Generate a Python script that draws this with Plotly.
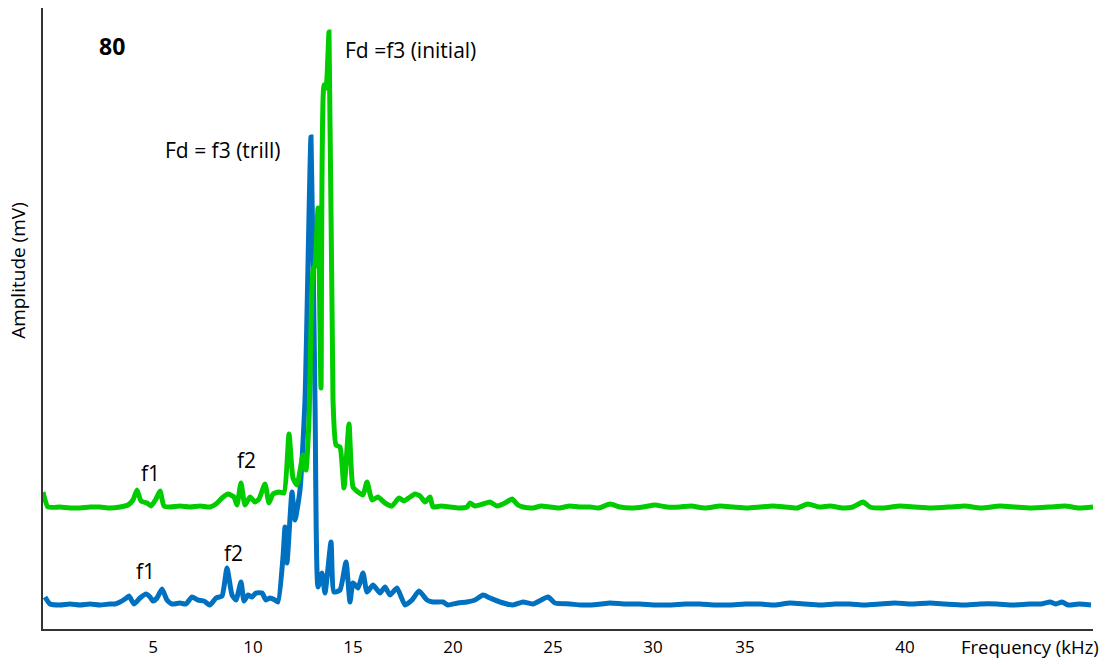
import plotly.graph_objects as go

# Frequency (kHz) and amplitude (arbitrary mV units)
green_freq = [-0.5, -0.25, 0.35, 0.85, 1.35, 1.85, 2.35, 2.85, 3.35, 3.75, 4.0, 4.2, 4.4, 4.7, 4.9, 5.15, 5.35,
              5.55, 5.85, 6.35, 6.85, 7.35, 7.85, 8.15, 8.45, 8.75, 9.05, 9.2, 9.4, 9.6, 9.85, 10.1, 10.3,
              10.6, 10.8, 11.0, 11.3, 11.55, 11.8, 12.0, 12.2, 12.4, 12.5, 12.65, 12.8, 13.0, 13.1, 13.25,
              13.4, 13.55, 13.65, 13.8, 14.0, 14.15, 14.35, 14.55, 14.8, 15.0, 15.25, 15.5, 15.7, 15.95,
              16.25, 16.6, 16.95, 17.3, 17.55, 17.85, 18.1, 18.35, 18.6, 18.85, 19.0, 19.4, 19.85, 20.3,
              20.7, 20.85, 21.1, 21.5, 21.85, 22.2, 22.6, 22.95, 23.25, 23.5, 24.0, 24.4, 24.85, 25.3,
              25.85, 26.3, 26.85, 27.3, 27.85, 28.35, 28.9, 29.5, 30.1, 30.7, 31.35, 31.9, 32.6, 33.35,
              34.0, 34.7, 35.35, 36.0, 36.6, 37.2, 37.75, 38.3, 38.85, 39.5, 40.0, 40.5, 40.85, 41.5,
              42.35, 43.1, 43.9, 44.85, 45.6, 46.4, 47.35, 48.1, 48.9, 49.85, 50.6, 51.3, 52.0]
green_amp = [137, 122, 122, 121, 121, 122, 122, 121, 122, 124, 129, 139, 128, 126, 123, 130, 138,
             123, 122, 123, 122, 123, 122, 125, 131, 135, 132, 124, 146, 124, 132, 127, 130,
             145, 126, 135, 137, 136, 195, 151, 144, 164, 174, 159, 209, 359, 364, 421,
             241, 544, 541, 597, 229, 184, 182, 141, 205, 142, 137, 134, 147, 129,
             132, 126, 123, 131, 128, 132, 135, 133, 127, 132, 122, 123, 122, 121,
             122, 126, 123, 125, 127, 123, 126, 130, 124, 122, 121, 123, 122, 121,
             123, 122, 122, 121, 125, 122, 121, 122, 124, 122, 122, 123, 121, 123,
             122, 121, 122, 123, 122, 121, 125, 122, 123, 121, 122, 127, 122, 121,
             123, 122, 121, 122, 123, 121, 123, 122, 121, 122, 123, 121, 122]

blue_freq = [-0.4, -0.15, 0.35, 0.85, 1.35, 1.85, 2.35, 2.85, 3.1, 3.35, 3.6, 3.8, 4.05, 4.35, 4.65, 4.85,
             5.0, 5.2, 5.45, 5.7, 5.95, 6.35, 6.65, 6.95, 7.25, 7.55, 7.85, 8.15, 8.45, 8.7, 8.95,
             9.15, 9.4, 9.55, 9.75, 9.95, 10.15, 10.45, 10.65, 10.85, 11.1, 11.25, 11.5, 11.6, 11.7,
             11.95, 12.1, 12.35, 12.6, 12.9, 13.1, 13.25, 13.45, 13.6, 13.9, 14.05, 14.35, 14.65,
             14.85, 15.0, 15.25, 15.5, 15.7, 16.0, 16.35, 16.6, 16.85, 17.2, 17.6, 17.95, 18.3, 18.7,
             19.0, 19.5, 19.75, 20.25, 20.7, 21.1, 21.5, 21.85, 22.35, 23.0, 23.5, 24.0, 24.75, 25.1,
             25.85, 26.4, 26.85, 27.4, 27.85, 28.6, 29.35, 30.1, 30.85, 31.6, 32.35, 33.1, 33.85,
             34.6, 35.35, 36.1, 36.85, 37.6, 38.35, 39.1, 39.85, 40.6, 41.35, 42.1, 42.9, 43.85,
             44.6, 45.5, 46.35, 47.2, 48.0, 48.85, 49.4, 49.85, 50.15, 50.45, 50.75, 51.3, 51.9]
blue_amp = [32, 25, 24, 25, 24, 25, 24, 25, 25, 27, 30, 33, 25, 31, 35, 32,
            28, 31, 40, 29, 25, 26, 25, 32, 29, 28, 24, 31, 33, 61, 34,
            29, 47, 28, 34, 32, 36, 36, 29, 31, 29, 27, 72, 102, 66,
            137, 109, 139, 229, 492, 229, 42, 56, 36, 87, 37, 39, 67,
            27, 46, 41, 56, 37, 44, 36, 42, 34, 41, 24, 29, 38, 29,
            27, 27, 24, 26, 27, 29, 34, 31, 27, 24, 27, 25, 32, 26,
            25, 24, 24, 25, 26, 25, 25, 24, 24, 25, 25, 24, 24,
            25, 25, 24, 26, 25, 24, 25, 25, 24, 25, 26, 25, 26,
            25, 24, 25, 25, 24, 25, 25, 27, 25, 27, 24, 25, 24]

tick_vals = [5, 10, 15, 20, 25, 30, 34.6, 42.6]
tick_text = ["5", "10", "15", "20", "25", "30", "35", "40"]

FONT = "Open Sans, Noto Sans, sans-serif"

fig = go.Figure()
fig.add_trace(go.Scatter(x=blue_freq, y=blue_amp, mode="lines",
                         line=dict(color="#0070C0", width=5, shape="spline", smoothing=0.5),
                         name="trill"))
fig.add_trace(go.Scatter(x=green_freq, y=green_amp, mode="lines",
                         line=dict(color="#00CC00", width=5, shape="spline", smoothing=0.5),
                         name="initial"))

ann = [
    dict(x=2.95, y=583, text="<b>80</b>", size=23, xanchor="center"),
    dict(x=14.5, y=579, text="Fd =f3 (initial)", size=21, xanchor="left"),
    dict(x=5.5, y=479, text="Fd = f3 (trill)", size=21, xanchor="left"),
    dict(x=4.85, y=156, text="f1", size=21, xanchor="center"),
    dict(x=9.65, y=169, text="f2", size=21, xanchor="center"),
    dict(x=4.6, y=58, text="f1", size=21, xanchor="center"),
    dict(x=9.0, y=76, text="f2", size=21, xanchor="center"),
]
for a in ann:
    fig.add_annotation(xref="x", yref="y", showarrow=False, yanchor="middle",
                       x=a["x"], y=a["y"], text=a["text"], xanchor=a["xanchor"],
                       font=dict(family=FONT, color="black", size=a["size"]))

fig.add_annotation(xref="paper", yref="paper", x=(1101 - 43) / 1050, y=-18 / 621,
                   text="Frequency (kHz)", showarrow=False, xanchor="right", yanchor="middle",
                   font=dict(family=FONT, size=18.5, color="black"))
fig.add_annotation(xref="paper", yref="paper", x=-0.024, y=0.578, text="Amplitude (mV)",
                   textangle=-90, showarrow=False, xanchor="center", yanchor="middle",
                   font=dict(family=FONT, size=19, color="black"))

fig.update_layout(
    width=1109, height=665,
    margin=dict(l=43, r=16, t=8, b=36),
    paper_bgcolor="white", plot_bgcolor="white",
    showlegend=False,
    font=dict(family=FONT, color="black"),
    xaxis=dict(range=[-0.5, 52.0], tickvals=tick_vals, ticktext=tick_text,
               showgrid=False, zeroline=False, showline=True, linecolor="#333333",
               linewidth=1.5, ticks="", tickfont=dict(size=17, family=FONT),
               ticklabelstandoff=2),
    yaxis=dict(range=[0, 621], showticklabels=False, showgrid=False, zeroline=False,
               showline=True, linecolor="#333333", linewidth=1.5, ticks=""),
)

fig.write_html("out.html", config={"displayModeBar": False},
               post_script="document.body.style.margin='0px';")
